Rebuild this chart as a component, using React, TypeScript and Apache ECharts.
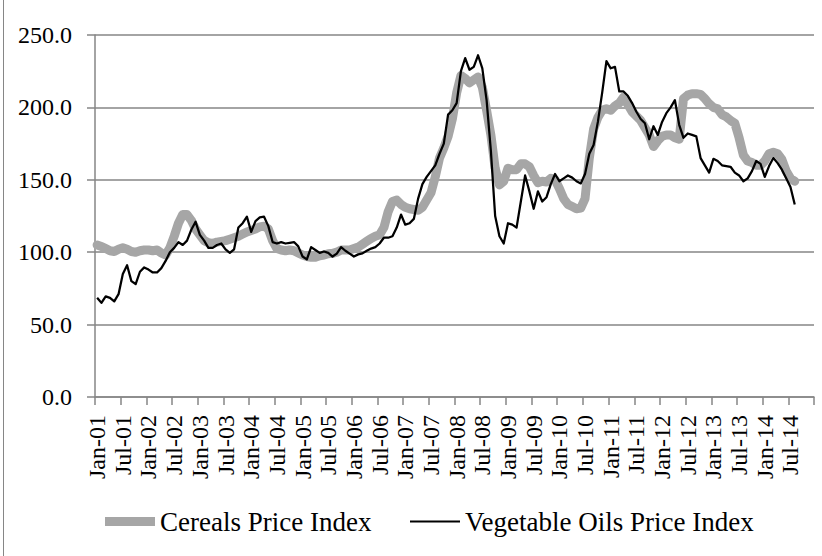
import React, { useEffect, useRef } from "react";
import * as echarts from "echarts";

const monthNames = ["Jan", "Feb", "Mar", "Apr", "May", "Jun", "Jul", "Aug", "Sep", "Oct", "Nov", "Dec"];
const years = ["01", "02", "03", "04", "05", "06", "07", "08", "09", "10", "11", "12", "13", "14"];
const categories: string[] = [];
years.forEach((y) => monthNames.forEach((m) => categories.push(`${m}-${y}`)));

const cereals = [
  105, 104, 102.5, 101, 100.5, 102, 103, 102, 100.5, 100, 101, 101.5,
  101.5, 101, 101.5, 99.5, 98, 103, 111, 120, 126, 126, 122, 116,
  112, 108, 106.5, 106, 107, 107.5, 108, 109, 110, 111, 112.5, 114,
  115, 116, 117.5, 118, 116, 108, 102.5, 101.5, 101, 101.5, 101, 99.5,
  98, 97, 96.5, 96.5, 97.5, 98, 99, 99.2, 100, 101.5, 101.5, 101.5,
  102.5, 103.5, 105.5, 107.5, 109.5, 111, 112, 117, 128, 135, 136, 133,
  131, 130, 129.5, 129, 131, 136, 141, 152, 165, 172, 180, 192,
  210, 222, 220, 217, 219, 221, 214, 198, 181, 158, 146.5, 149,
  158, 157, 157, 161, 161, 159, 153, 148, 149, 148.5, 151, 150,
  144, 137, 133, 131.5, 130, 130.5, 137, 165, 185, 193, 198, 199,
  198, 201, 203, 207, 202, 197, 194, 191, 186, 181, 173, 177,
  180, 181, 181, 179, 178, 206, 208.5, 209.5, 209.5, 209, 206, 202.5,
  200, 199, 195, 193.5, 191, 189, 179, 167, 163, 162, 160, 160,
  163, 168, 169, 168, 164, 156, 151, 149,
];

const vegOils = [
  68.5, 65, 69.5, 68.5, 66, 71, 85, 91, 80, 78, 86.5, 89.5,
  88, 86, 86, 89, 94, 100, 103, 107, 105, 108, 115.5, 121,
  112, 108, 103, 103, 105, 106, 102, 99.5, 102, 117, 120, 124.5,
  114, 121.5, 124, 124.5, 118, 107, 106, 107, 106, 106.5, 107, 104,
  97, 95, 103.5, 101.5, 99.5, 100.5, 99.5, 97, 99, 103.5, 101, 99,
  97, 98.5, 99.2, 101, 102.5, 103.5, 106, 110, 110, 111, 117, 126,
  119, 120, 123, 137, 147, 152, 156, 160, 168, 175, 195, 198,
  203, 225, 234, 226, 228, 236, 227, 205, 170, 125, 111, 106,
  120, 119, 117, 135, 153, 142, 130, 142, 135, 138, 147, 154,
  149, 151, 153, 151.5, 149, 147.5, 154, 168, 174, 190, 210, 232,
  227, 228, 211, 211, 208, 203, 197, 192, 189, 178, 187, 181,
  190, 196, 200, 205, 188, 179, 182, 181, 180, 165, 160, 155,
  164.5, 163, 160, 159.5, 159, 155, 153, 149, 151, 156, 163, 161,
  152, 159.5, 165, 161.5, 157, 151, 145, 133,
];

const seriesNames = ["Cereals Price Index", "Vegetable Oils Price Index"];
const yTicks = { min: 0, max: 250, interval: 50 };

const FONT = "'Liberation Serif', 'Times New Roman', serif";

// legend icons: a band inside an 50x18 box (tiny corner marks fix the bounding box)
const thickIcon = "path://M0,0L0.01,0L0,0.01Z M0,4.5L50,4.5L50,13.5L0,13.5Z M50,18L49.99,18L50,17.99Z";
const thinIcon = "path://M0,0L0.01,0L0,0.01Z M0,7.9L50,7.9L50,10.1L0,10.1Z M50,18L49.99,18L50,17.99Z";

export default function App() {
  const ref = useRef<HTMLDivElement>(null);
  useEffect(() => {
    document.body.style.margin = "0";
    const chart = echarts.init(ref.current!, undefined, { renderer: "svg" });
    const legendBase = {
      bottom: 16,
      itemWidth: 50,
      itemHeight: 18,
      textStyle: { fontFamily: FONT, fontSize: 27, color: "#000" },
    };
    chart.setOption({
      animation: false,
      backgroundColor: "#ffffff",
      grid: { left: 95, right: 8, top: 35, bottom: 159, containLabel: false },
      xAxis: {
        type: "category",
        data: categories,
        boundaryGap: true,
        axisLine: { show: true, lineStyle: { color: "#868686", width: 1.5 } },
        axisTick: { show: true, interval: 5, length: 8, lineStyle: { color: "#868686", width: 1.5 } },
        axisLabel: {
          interval: 5,
          rotate: 90,
          margin: 18,
          color: "#000",
          fontFamily: FONT,
          fontSize: 24,
        },
        splitLine: { show: false },
      },
      yAxis: {
        type: "value",
        min: yTicks.min,
        max: yTicks.max,
        interval: yTicks.interval,
        axisLine: { show: true, lineStyle: { color: "#868686", width: 1.5 } },
        axisTick: { show: true, length: 8, lineStyle: { color: "#868686", width: 1.5 } },
        axisLabel: {
          margin: 23,
          color: "#000",
          fontFamily: FONT,
          fontSize: 24,
          formatter: (v: number) => v.toFixed(1),
        },
        splitLine: { show: true, lineStyle: { color: "#868686", width: 1.5 } },
      },
      legend: [
        { ...legendBase, left: 100, data: [{ name: seriesNames[0], icon: thickIcon }] },
        { ...legendBase, left: 405, data: [{ name: seriesNames[1], icon: thinIcon }] },
      ],
      series: [
        {
          name: seriesNames[0],
          type: "line",
          data: cereals,
          symbol: "none",
          lineStyle: { color: "#A6A6A6", width: 9, cap: "round", join: "round" },
          itemStyle: { color: "#A6A6A6" },
          z: 2,
        },
        {
          name: seriesNames[1],
          type: "line",
          data: vegOils,
          symbol: "none",
          lineStyle: { color: "#000000", width: 2.25, join: "round" },
          itemStyle: { color: "#000000" },
          z: 3,
        },
      ],
      graphic: [
        {
          type: "line",
          shape: { x1: 3.5, y1: 0, x2: 3.5, y2: 556 },
          style: { stroke: "#868686", lineWidth: 1 },
        },
      ],
    });
    return () => chart.dispose();
  }, []);
  return <div ref={ref} style={{ width: 822, height: 556 }} />;
}
